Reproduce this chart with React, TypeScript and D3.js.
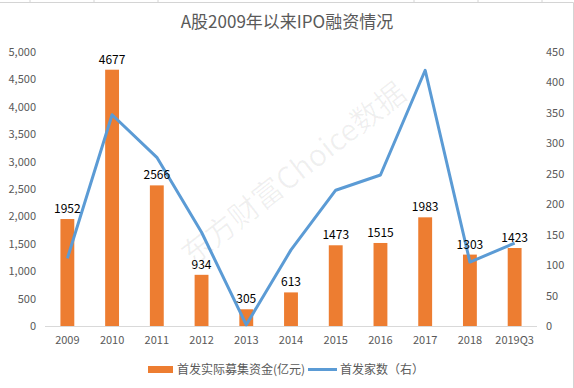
import { useEffect, useRef } from 'react';
import * as d3 from 'd3';

const years = ['2009', '2010', '2011', '2012', '2013', '2014', '2015', '2016', '2017', '2018', '2019Q3'];
const funds = [1952, 4677, 2566, 934, 305, 613, 1473, 1515, 1983, 1303, 1423];
const ipoCounts = [111, 347, 277, 154, 2, 125, 223, 248, 420, 105, 136];
const leftTicks = [0, 500, 1000, 1500, 2000, 2500, 3000, 3500, 4000, 4500, 5000];
const rightTicks = [0, 50, 100, 150, 200, 250, 300, 350, 400, 450];

export default function App() {
  const svgRef = useRef<SVGSVGElement>(null);

  useEffect(() => {
    const width = 574;
    const height = 388;
    const margin = { top: 52, right: 37, bottom: 62, left: 45 };
    const innerWidth = width - margin.left - margin.right;
    const innerHeight = height - margin.top - margin.bottom;
    const font = '"Noto Sans CJK SC", "Liberation Sans", sans-serif';
    const grey = '#595959';

    const svg = d3.select(svgRef.current)
      .attr('width', width)
      .attr('height', height);
    svg.selectAll('*').remove();

    // sheet cell lines above chart frame
    svg.append('rect').attr('x', 0).attr('y', 0).attr('width', width).attr('height', height).attr('fill', '#fff');
    [30, 94, 158, 414, 478, 542].forEach(x => {
      svg.append('line').attr('x1', x).attr('x2', x).attr('y1', 0).attr('y2', 2).attr('stroke', '#d4d4d4');
    });
    svg.append('path')
      .attr('d', `M0,2.5H573.5V${height}`)
      .attr('fill', 'none')
      .attr('stroke', '#d4d4d4');

    svg.append('text')
      .attr('x', 287)
      .attr('y', 28)
      .attr('text-anchor', 'middle')
      .attr('font-family', font)
      .attr('font-size', 17)
      .attr('fill', grey)
      .text('A股2009年以来IPO融资情况');

    const chart = svg.append('g').attr('transform', `translate(${margin.left},${margin.top})`);

    const x = d3.scaleBand().domain(years).range([0, innerWidth]).paddingInner(0.69).paddingOuter(0.345);
    const yL = d3.scaleLinear().domain([0, 5000]).range([innerHeight, 0]);
    const yR = d3.scaleLinear().domain([0, 450]).range([innerHeight, 0]);

    // watermark
    chart.append('text')
      .attr('transform', `translate(255,130) rotate(-38)`)
      .attr('text-anchor', 'middle')
      .attr('font-family', font)
      .attr('font-size', 30)
      .attr('fill', '#000')
      .attr('fill-opacity', 0.06)
      .text('东方财富Choice数据');

    chart.append('line')
      .attr('x1', 0).attr('x2', innerWidth)
      .attr('y1', innerHeight + 0.5).attr('y2', innerHeight + 0.5)
      .attr('stroke', '#d9d9d9');

    chart.selectAll('.bar')
      .data(funds)
      .join('rect')
      .attr('class', 'bar')
      .attr('x', (d, i) => x(years[i])!)
      .attr('y', d => yL(d))
      .attr('width', x.bandwidth())
      .attr('height', d => innerHeight - yL(d))
      .attr('fill', '#ed7d31');

    const line = d3.line<number>()
      .x((d, i) => x(years[i])! + x.bandwidth() / 2)
      .y(d => yR(d));

    chart.append('path')
      .attr('d', line(ipoCounts))
      .attr('fill', 'none')
      .attr('stroke', '#5b9bd5')
      .attr('stroke-width', 3)
      .attr('stroke-linejoin', 'round');

    chart.selectAll('.val')
      .data(funds)
      .join('text')
      .attr('class', 'val')
      .attr('x', (d, i) => x(years[i])! + x.bandwidth() / 2)
      .attr('y', d => yL(d) - 6)
      .attr('text-anchor', 'middle')
      .attr('font-family', font)
      .attr('font-size', 12)
      .attr('fill', '#000')
      .text(d => d);

    const axisL = chart.append('g').call(d3.axisLeft(yL).tickValues(leftTicks).tickSize(0).tickPadding(9).tickFormat(d3.format(',')));
    const axisR = chart.append('g').attr('transform', `translate(${innerWidth},0)`)
      .call(d3.axisRight(yR).tickValues(rightTicks).tickSize(0).tickPadding(9));
    const axisB = chart.append('g').attr('transform', `translate(0,${innerHeight})`)
      .call(d3.axisBottom(x).tickSize(0).tickPadding(10));
    [axisL, axisR, axisB].forEach(a => {
      a.select('.domain').remove();
      a.selectAll('text').attr('font-family', font).attr('font-size', 11).attr('fill', grey);
    });

    // legend
    const lg = svg.append('g').attr('font-family', font).attr('font-size', 12).attr('fill', grey);
    lg.append('rect').attr('x', 148).attr('y', 366).attr('width', 25).attr('height', 7).attr('fill', '#ed7d31');
    lg.append('text').attr('x', 177).attr('y', 374).text('首发实际募集资金(亿元)');
    lg.append('line').attr('x1', 308).attr('x2', 337).attr('y1', 369.5).attr('y2', 369.5)
      .attr('stroke', '#5b9bd5').attr('stroke-width', 3);
    lg.append('text').attr('x', 340).attr('y', 374).text('首发家数（右）');
  }, []);

  return (
    <div style={{ position: 'absolute', left: 0, top: 0 }}>
      <svg ref={svgRef}></svg>
    </div>
  );
}
